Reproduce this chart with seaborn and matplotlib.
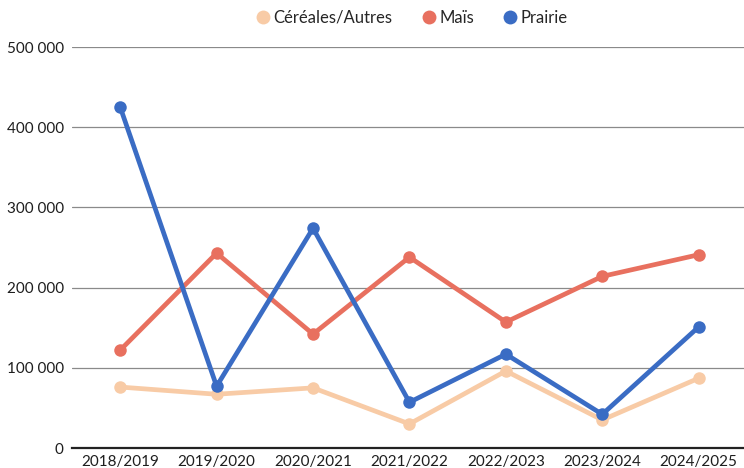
import matplotlib
matplotlib.use("Agg")
import matplotlib.pyplot as plt
import matplotlib.ticker as mticker
import seaborn as sns
import pandas as pd

seasons = ["2018/2019", "2019/2020", "2020/2021", "2021/2022",
           "2022/2023", "2023/2024", "2024/2025"]
cereales = [76000, 67000, 75000, 30000, 96000, 35000, 87000]
mais = [122000, 243000, 142000, 238000, 157000, 214000, 241000]
prairie = [425000, 77000, 274000, 57000, 117000, 42000, 151000]

series_names = ["Céréales/Autres", "Maïs", "Prairie"]
series_colors = ["#f8cba6", "#e8705f", "#3a6cc4"]

df = pd.DataFrame({
    "saison": seasons * 3,
    "pos": list(range(len(seasons))) * 3,
    "valeur": cereales + mais + prairie,
    "culture": [n for n in series_names for _ in seasons],
})

sns.set_theme(style="white")
plt.rcParams["font.family"] = ["Lato", "DejaVu Sans"]

fig = plt.figure(figsize=(7.44, 4.68), dpi=100)
ax = fig.add_axes([72 / 744, 20 / 468, 672 / 744, 401 / 468])

sns.lineplot(data=df, x="pos", y="valeur", hue="culture",
             hue_order=series_names, palette=series_colors,
             marker="o", markersize=9, markeredgewidth=0,
             linewidth=3.4, ax=ax, legend=False, zorder=3)

ax.set_xlim(-0.5, 6.47)
ax.set_ylim(0, 500000)
ax.set_yticks(range(0, 500001, 100000))
ax.yaxis.set_major_formatter(
    mticker.FuncFormatter(lambda v, _: f"{int(v):,}".replace(",", " ")))
ax.set_xticks(range(len(seasons)))
ax.set_xticklabels(seasons)
ax.set_xlabel("")
ax.set_ylabel("")
ax.tick_params(axis="both", colors="#1e1e1e", length=0)
ax.tick_params(axis="y", labelsize=11, pad=6)
ax.tick_params(axis="x", labelsize=11, pad=5)

for v in range(100000, 500001, 100000):
    ax.axhline(v, color="#8a8a8a", linewidth=0.9, zorder=1)
for s in ["top", "right", "left"]:
    ax.spines[s].set_visible(False)
ax.spines["bottom"].set_color("#222222")
ax.spines["bottom"].set_linewidth(1.6)

# legend across the top
handles = [plt.Line2D([], [], marker="o", linestyle="", markersize=10,
                      markerfacecolor=c, markeredgewidth=0)
           for c in series_colors]
fig.legend(handles, series_names, loc="center", bbox_to_anchor=(0.551, 0.962),
           ncol=3, frameon=False, fontsize=12, handletextpad=0.0,
           handlelength=1.3, columnspacing=1.5)

fig.savefig("out.png", dpi=100, facecolor="white")
